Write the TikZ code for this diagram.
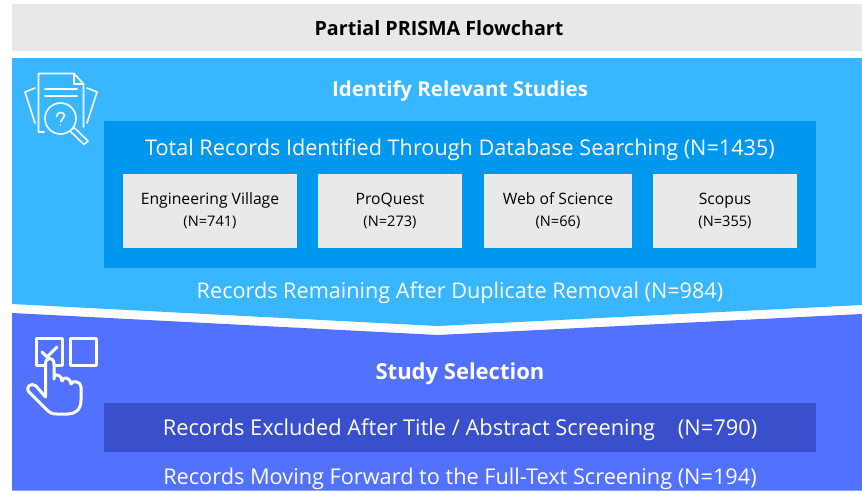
\documentclass[tikz,border=0pt]{standalone}
\usepackage{fontspec}
\setmainfont{Open Sans}
\definecolor{greybar}{HTML}{E8E8E8}
\definecolor{skyb}{HTML}{38B6FF}
\definecolor{midb}{HTML}{0097EE}
\definecolor{boxg}{HTML}{E9E9E9}
\definecolor{purp}{HTML}{5271FF}
\definecolor{dpurp}{HTML}{3A4FCC}
\newcommand{\dbtop}[1]{{\fontsize{15.7}{22}\selectfont #1}}
\tikzset{
 txt/.style={inner sep=0pt,align=center},
 head/.style={txt,text=white,font=\fontsize{20.5}{24}\selectfont\bfseries},
 line/.style={txt,text=white,font=\fontsize{21.65}{25}\selectfont},
 dbbox/.style={fill=boxg,draw=none,inner sep=0pt,align=center,text=black,font=\fontsize{14.6}{22}\selectfont},
 ic/.style={draw=white,line width=1.6pt,line cap=round,line join=round},
 ich/.style={draw=white,line width=3pt,line cap=round,line join=round}
}
\begin{document}
\begin{tikzpicture}[x=1pt,y=-1pt]
\useasboundingbox (0,0) rectangle (862,490);
\fill[white] (0,0) rectangle (862,490);
\fill[greybar] (12,4) rectangle (862,51);
\node[txt,text=black,font=\fontsize{19.7}{24}\selectfont\bfseries] (title) at (439,28) {Partial PRISMA Flowchart};
\fill[skyb] (12,58) -- (862,58) -- (862,305) -- (438,326) -- (12,304) -- cycle;
\fill[purp] (12,313) -- (438,335) -- (862,314) -- (862,490.5) -- (12,490.5) -- cycle;
\node[head] (identify) at (460,91) {Identify Relevant Studies};
\fill[midb] (104,121) rectangle (816,268);
\node[line] (total) at (460,150) {Total Records Identified Through Database Searching (N=1435)};
\node[dbbox,minimum width=174pt,minimum height=74pt] (ev) at (210,210.5) {\dbtop{Engineering Village}\\(N=741)};
\node[dbbox,minimum width=144pt,minimum height=74pt] (pq) at (390,210.5) {\dbtop{ProQuest}\\(N=273)};
\node[dbbox,minimum width=148pt,minimum height=74pt] (wos) at (558,210.5) {\dbtop{Web of Science}\\(N=66)};
\node[dbbox,minimum width=144pt,minimum height=74pt] (sc) at (725,210.5) {\dbtop{Scopus}\\(N=355)};
\node[line] (remain) at (460,293) {Records Remaining After Duplicate Removal (N=984)};
\node[txt,text=white,font=\fontsize{22}{26}\selectfont\bfseries] (select) at (460,374) {Study Selection};
\fill[dpurp] (104,403) rectangle (816,452);
\node[line,font=\fontsize{21.85}{25}\selectfont] (excl) at (460,430) {Records Excluded After Title / Abstract Screening \ \ \ (N=790)};
\node[line,font=\fontsize{21.72}{25}\selectfont] (fwd) at (460,479) {Records Moving Forward to the Full-Text Screening (N=194)};
% document icon
\draw[ic] (44,132) -- (38.5,132) -- (38.5,73.5) -- (74,73.5) -- (83.5,84) -- (83.5,127);
\draw[ic] (74,73.5) -- (74,84) -- (83.5,84);
\draw[ic] (45,89) -- (77,89) (45,96) -- (77,96);
\draw[ic] (35,88) -- (25,92) -- (35,123);
\draw[ic] (87,88) -- (97,92) -- (87,123);
\draw[ic] (60.5,118.5) circle (15.5);
\draw[ic] (56.5,116.5) .. controls (56.5,111) and (65,111.5) .. (64.5,116) .. controls (64.2,119) and (60.5,119) .. (60.5,122);
\draw[ic] (60.5,125) -- (60.5,125.1);
\draw[ic] (72,129.5) -- (74,127.5) -- (88,141) -- (84,144.5) -- (70,131);
% selection icon
\draw[ich] (36,338) rectangle (62,365);
\draw[ich] (70.5,338) rectangle (96,365);
\draw[ich] (42,352) -- (47,357) -- (57,347);
\draw[ich,fill=purp] (45.5,397) -- (45.5,364) .. controls (45.5,356.5) and (54,356.5) .. (54,364) -- (54,379) -- (54,377) .. controls (55,373) and (62,375) .. (62,381) .. controls (63,376) and (70,377) .. (71,384) .. controls (72,380) and (81,381) .. (81,387) -- (81,400) .. controls (81,410) and (75,414) .. (68,414) -- (57,414) .. controls (52,414) and (50,413) .. (46,409) -- (29,392) .. controls (25,387) and (31,382) .. (36,386) -- cycle;
\end{tikzpicture}
\end{document}
